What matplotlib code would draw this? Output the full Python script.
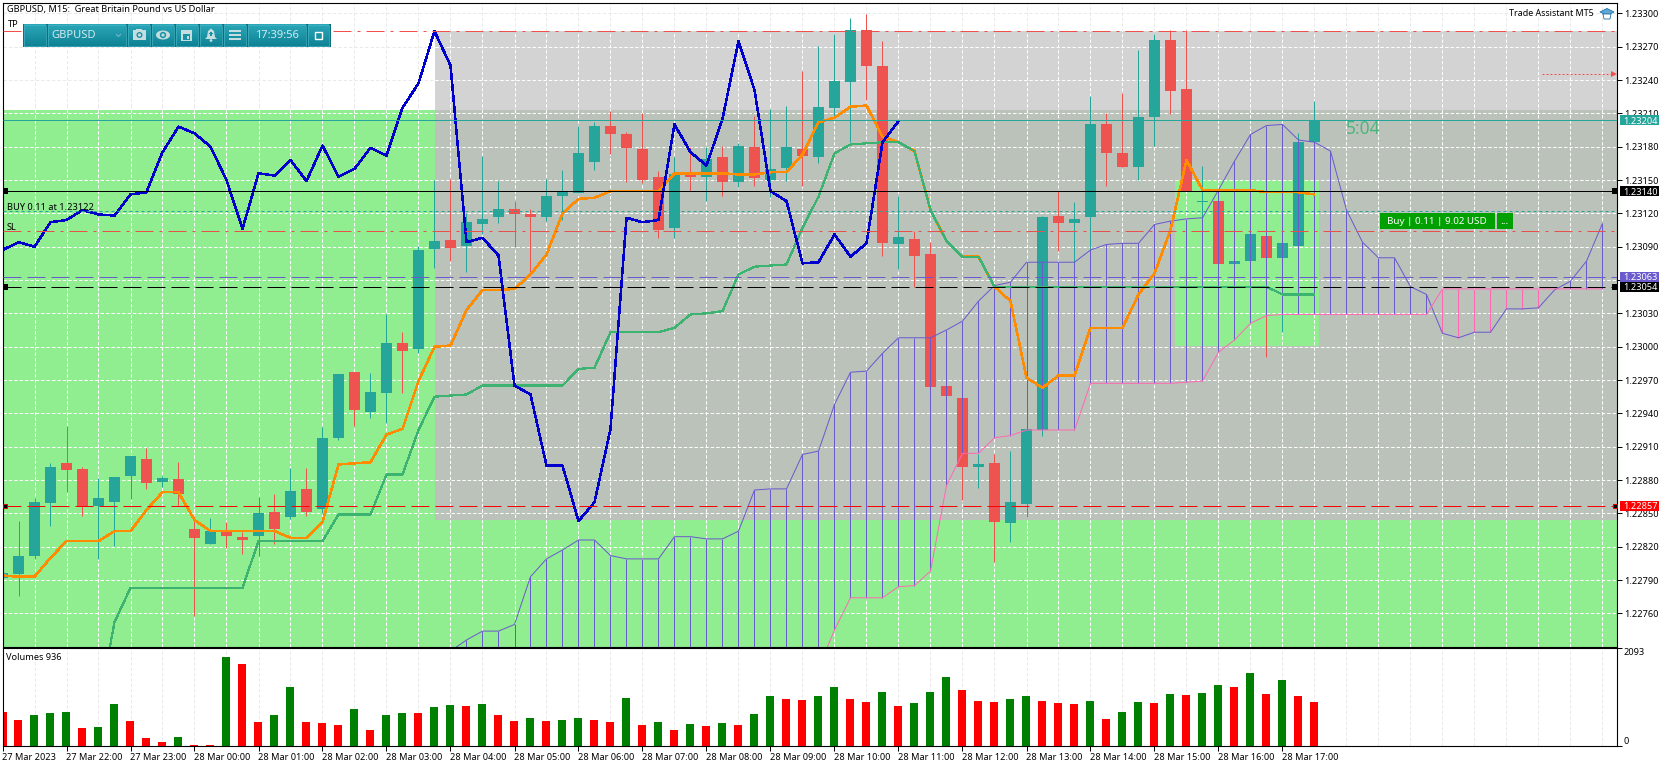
import numpy as np
import matplotlib
matplotlib.use("Agg")
import matplotlib.pyplot as plt
from matplotlib.patches import Rectangle, Polygon, Ellipse, Circle
from matplotlib.colors import LinearSegmentedColormap

plt.rcParams['font.family'] = ['Noto Sans', 'DejaVu Sans']
plt.rcParams['lines.scale_dashes'] = False
plt.rcParams['lines.solid_capstyle'] = 'butt'
plt.rcParams['lines.dash_capstyle'] = 'butt'

# ---- data: prices in points (1.23140 -> 123140) ----
open_ = [122792,122795,122812,122859,122895,122890,122857,122860,122884,122899,122878,122881,122836,122822,122833,122829,122830,122851,122847,122872,122854,122918,122977,122941,122958,123003,122998,123088,123096,123091,123110,123117,123124,123119,123117,123136,123138,123166,123199,123191,123178,123153,123107,123155,123153,123171,123148,123180,123150,123161,123178,123171,123215,123238,123285,123253,123092,123097,123083,122965,122954,122892,122895,122841,122858,122925,123118,123111,123117,123200,123174,123162,123207,123276,123232,123130,123131,123074,123077,123100,123080,123091,123184]
high = [122796,122843,122864,122895,122929,122892,122882,122883,122902,122909,122884,122896,122848,122846,122842,122833,122865,122867,122891,122891,122928,122975,122977,122976,123029,123013,123091,123150,123151,123120,123172,123149,123131,123124,123151,123159,123199,123202,123212,123193,123210,123158,123171,123180,123180,123181,123183,123208,123214,123217,123248,123271,123281,123296,123299,123275,123136,123104,123094,122965,122954,122903,122903,122906,122926,123118,123140,123130,123226,123210,123228,123267,123281,123285,123285,123163,123131,123077,123101,123100,123093,123192,123221]
low = [122792,122776,122809,122839,122869,122848,122809,122821,122863,122872,122874,122857,122758,122822,122819,122813,122812,122822,122845,122848,122850,122916,122929,122936,122931,122958,122994,123071,123077,123067,123101,123111,123090,123064,123113,123114,123138,123159,123173,123148,123147,123098,123098,123140,123131,123136,123144,123145,123135,123149,123145,123165,123207,123184,123222,123082,123070,123054,122964,122956,122862,122873,122806,122824,122847,122920,123086,123075,123078,123145,123162,123150,123181,123209,123140,123114,123074,123074,123077,122991,123013,123091,123184]
close = [122796,122812,122860,122892,122889,122857,122864,122883,122902,122877,122882,122867,122828,122834,122830,122826,122850,122836,122870,122851,122918,122975,122943,122959,123003,122996,123087,123095,123089,123112,123115,123124,123119,123117,123136,123140,123174,123199,123191,123179,123150,123105,123155,123153,123169,123148,123181,123152,123160,123180,123172,123216,123239,123285,123253,123093,123099,123082,122964,122956,122892,122894,122842,122860,122926,123117,123111,123115,123200,123174,123162,123207,123276,123230,123140,123131,123074,123077,123101,123080,123093,123184,123204]

chikou = [123087,123094,123090,123112,123114,123123,123119,123118,123137,123139,123175,123198,123192,123180,123150,123106,123156,123154,123168,123149,123181,123153,123160,123179,123172,123215,123237,123284,123253,123094,123098,123082,122965,122957,122893,122893,122843,122860,122926,123116,123112,123114,123200,123175,123163,123205,123275,123231,123140,123131,123075,123076,123101,123081,123093,123184,123203]
tenkan = [122794,122793,122793,122810,122825,122825,122825,122834,122834,122853,122869,122869,122844,122834,122834,122834,122834,122834,122828,122828,122842,122894,122895,122896,122921,122926,122969,123000,123001,123033,123051,123051,123052,123065,123083,123120,123133,123134,123140,123140,123140,123140,123156,123156,123156,123156,123155,123155,123157,123157,123173,123202,123206,123216,123217,123189,123184,123176,123123,123095,123081,123081,123054,123041,122972,122963,122974,122974,123017,123017,123017,123047,123066,123105,123168,123141,123141,123141,123141,123139,123139,123139,123137]
kijun_start = 6
kijun = [122675,122752,122783,122783,122783,122783,122783,122783,122783,122783,122825,122825,122825,122825,122825,122849,122849,122849,122885,122885,122925,122955,122956,122957,122965,122965,122965,122965,122965,122965,122980,122981,123013,123013,123013,123013,123017,123029,123030,123032,123065,123072,123073,123074,123107,123135,123174,123182,123183,123184,123184,123176,123123,123095,123081,123081,123054,123054,123054,123054,123054,123054,123054,123054,123054,123054,123054,123054,123054,123054,123054,123054,123054,123054,123047,123047,123047]
cloud_start = 28
senkou_a = [122726,122736,122744,122744,122750,122793,122809,122817,122826,122826,122812,122809,122809,122809,122829,122829,122827,122827,122834,122871,122872,122872,122903,122906,122948,122977,122978,122994,123008,123008,123008,123015,123023,123041,123055,123058,123076,123076,123076,123076,123087,123092,123093,123093,123110,123113,123115,123116,123141,123167,123191,123199,123200,123186,123184,123176,123123,123094,123080,123080,123054,123047,123012,123008,123013,123013,123034,123034,123035,123051,123059,123077,123111]
senkou_b = [122700,122700,122700,122700,122700,122700,122700,122700,122700,122700,122700,122700,122700,122700,122700,122700,122700,122700,122700,122700,122700,122700,122700,122711,122745,122774,122774,122774,122784,122785,122798,122875,122904,122904,122918,122920,122925,122925,122925,122925,122967,122967,122967,122967,122967,122967,122968,122969,122995,123006,123021,123028,123029,123029,123029,123029,123029,123029,123029,123029,123029,123029,123052,123052,123052,123052,123052,123052,123052,123052,123052,123052,123052]

volume = [733,562,669,712,733,392,413,904,541,178,93,199,28,28,1908,1759,520,669,1267,520,498,456,797,349,669,712,712,840,883,862,904,669,541,605,541,562,605,562,520,1032,456,520,349,477,434,498,456,691,1075,1011,990,1075,1267,1011,947,1161,862,926,1161,1481,1203,968,947,1011,1075,968,926,904,968,584,733,947,926,1118,1096,1139,1310,1267,1566,1118,1417,1075,936]
volume_up = "DDUUUDUUDDDUDDUDDUUDDDUDUUDUUDUDDUDUUDDUDUDUDUDUUDDUUDDUDUUUDDDUUDDDUDUUDUDUUDUDUDD"

time_labels = ["27 Mar 2023","27 Mar 22:00","27 Mar 23:00","28 Mar 00:00","28 Mar 01:00","28 Mar 02:00","28 Mar 03:00","28 Mar 04:00","28 Mar 05:00","28 Mar 06:00","28 Mar 07:00","28 Mar 08:00","28 Mar 09:00","28 Mar 10:00","28 Mar 11:00","28 Mar 12:00","28 Mar 13:00","28 Mar 14:00","28 Mar 15:00","28 Mar 16:00","28 Mar 17:00"]
price_ticks = [123300,123270,123240,123210,123180,123150,123120,123090,123060,123030,123000,122970,122940,122910,122880,122850,122820,122790,122760]
hidden_price_labels = [123060]

TP, SL, BUY = 123284, 123104, 123122
BID, ASK_LINE, LINE_BLACK, LINE_PURPLE, LINE_RED = 123204, 123140, 123054, 123063, 122857
ZONE_TOP, ZONE_BOTTOM, GREEN_TOP = 123284, 122844, 123213
ZONE_LEFT = 27.03
SMALL_BOX = (73.3, 82.3, 123001, 123150)
ARROW_PRICE, ARROW_FROM = 123245, 96.2
boxes = [(123204,'#26A69A'),(123140,'#000000'),(123063,'#6A5ACD'),(123054,'#000000'),(122857,'#FF0000')]

# ---- layout ----
W, H = 1670, 767
px = 0.72
L, R = 2.5, 1617.3
fig = plt.figure(figsize=(W/100, H/100), dpi=100, facecolor='white')
def frame(y0, y1):
    return [L/W, (H-y1)/H, (R-L)/W, (y1-y0)/H]
ax = fig.add_axes(frame(2.5, 646.5))
vx = fig.add_axes(frame(648.3, 746))
XMAX = (R-L)/16
YTOP, YBOT = 123309.75, 122730.15
n = len(close)
idx = np.arange(n)
TEAL, RED = '#26A69A', '#EF5350'
for a in (ax, vx):
    a.set_xlim(0, XMAX)
    for s in a.spines.values():
        s.set_linewidth(1.1*px); s.set_color('black')
ax.set_ylim(YBOT, YTOP)
vx.set_ylim(0, 2093)

# ---- zones ----
ax.add_patch(Rectangle((0,YBOT), XMAX, GREEN_TOP-YBOT, fc='#90EE90', ec='none', zorder=0.1))
ax.add_patch(Rectangle((ZONE_LEFT,GREEN_TOP), XMAX-ZONE_LEFT, ZONE_TOP-GREEN_TOP, fc='#D3D3D3', ec='none', zorder=0.2))
ax.add_patch(Rectangle((ZONE_LEFT,ZONE_BOTTOM), XMAX-ZONE_LEFT, GREEN_TOP-ZONE_BOTTOM, fc='#BBC2BA', ec='none', zorder=0.2))
ax.add_patch(Rectangle((SMALL_BOX[0],SMALL_BOX[2]), SMALL_BOX[1]-SMALL_BOX[0], SMALL_BOX[3]-SMALL_BOX[2], fc='#90EE90', ec='none', zorder=0.3))

# ---- grid ----
grid_ls = (0,(3.2*px,2.2*px))
gx = np.arange(2, 102, 2)
gy = np.array(price_ticks)
clip = Polygon([(0,YBOT),(XMAX,YBOT),(XMAX,ZONE_TOP),(ZONE_LEFT,ZONE_TOP),(ZONE_LEFT,GREEN_TOP),(0,GREEN_TOP)], closed=True, transform=ax.transData, fc='none', ec='none')
ax.add_patch(clip)
gkw = dict(lw=px, linestyles=[grid_ls], snap=True)
ax.hlines(gy, 0, XMAX, colors='#E9E9E9', zorder=0.5, **gkw)
ax.vlines(gx, YBOT, YTOP, colors='#E9E9E9', zorder=0.5, **gkw)
c1 = ax.hlines(gy, 0, XMAX, colors='white', zorder=0.6, **gkw)
c2 = ax.vlines(gx, YBOT, YTOP, colors='white', zorder=0.6, **gkw)
c1.set_clip_path(clip); c2.set_clip_path(clip)
vx.vlines(gx, 0, 2093, colors='#E9E9E9', zorder=0.5, **gkw)

# ---- candles ----
o, h, l, c = map(np.array, (open_, high, low, close))
cols = np.where(c >= o, TEAL, RED)
ax.vlines(idx, l, h, colors=cols, lw=px, zorder=1, snap=True)
ax.bar(idx, np.abs(c-o), bottom=np.minimum(o,c), width=11/16, color=cols, linewidth=0, zorder=1.1, antialiased=False)

# ---- ichimoku ----
ci = np.arange(cloud_start, cloud_start+len(senkou_a))
sa, sb = np.array(senkou_a), np.array(senkou_b)
ax.vlines(ci, sa, sb, colors=np.where(sa>=sb,'#6A5ACD','#FF69B4'), lw=px, zorder=2, snap=True)
ax.plot(ci, sa, color='#6A5ACD', lw=px, zorder=2.1)
ax.plot(ci, sb, color='#FF69B4', lw=px, zorder=2.1)
ax.plot(idx, tenkan, color='#FF8C00', lw=1.5*px, zorder=2.3, antialiased=False)
ax.plot(np.arange(kijun_start, kijun_start+len(kijun)), kijun, color='#3CB371', lw=1.2*px, zorder=2.4, antialiased=False)
ax.plot(np.arange(len(chikou)), chikou, color='#0000CD', lw=1.5*px, zorder=2.5, antialiased=False)

# ---- trade lines ----
dash = (0,(18*px,6*px))
dashdot = (0,(18*px,6*px,3*px,6*px))
lkw = dict(lw=px, snap=True)
ax.axhline(TP, color='#F0504C', ls=dashdot, zorder=3, **lkw)
ax.axhline(SL, color='#E8504C', ls=dashdot, zorder=3, **lkw)
ax.axhline(BUY, color='#26A69A', ls=(0,(3*px,3*px)), zorder=3, **lkw)
ax.axhline(BID, color=TEAL, zorder=3, **lkw)
ax.axhline(ASK_LINE, color='black', zorder=3.1, **lkw)
ax.axhline(LINE_PURPLE, color='#6A5ACD', ls=dash, zorder=3, **lkw)
ax.axhline(LINE_BLACK, color='black', ls=dash, zorder=3.1, **lkw)
ax.axhline(LINE_RED, color='#FF0000', ls=dash, zorder=3.2, **lkw)
ax.plot([ARROW_FROM, XMAX-0.2],[ARROW_PRICE]*2, color='#F0504C', ls=(0,(2*px,2*px)), zorder=3, **lkw)
ax.plot([XMAX-0.2],[ARROW_PRICE], marker='>', ms=5, color='#F0504C', mew=0, zorder=3)
for p in (ASK_LINE, LINE_BLACK):
    ax.plot([0.16, XMAX-0.17],[p,p], ls='none', marker='s', ms=4, color='black', mew=0, zorder=4)
ax.plot([0.16, XMAX-0.17],[LINE_RED]*2, ls='none', marker='s', ms=3.4, mfc='black', mec='#E00000', mew=0.7, zorder=4)

# ---- axes ticks ----
fs = 6.6
ax.set_xticks([])
ax.yaxis.tick_right()
ax.set_yticks(price_ticks)
ax.set_yticklabels(["" if p in hidden_price_labels else f"{p/1e5:.5f}" for p in price_ticks], fontsize=fs)
ax.tick_params(axis='y', length=5*px, width=px, pad=1, color='black')

bw = 8/16
vx.bar(np.arange(len(volume)), volume, width=bw, color=['#008000' if f=='U' else '#FF0000' for f in volume_up], linewidth=0, zorder=1, antialiased=False)
vx.yaxis.tick_right()
vx.set_yticks([0, 2093])
vx.set_yticklabels([])
vx.tick_params(axis='y', length=5*px, width=px)
tpos = np.arange(0, 4*len(time_labels), 4)
vx.set_xticks(tpos)
vx.set_xticklabels(time_labels, fontsize=fs, ha='left')
vx.tick_params(axis='x', length=5*px, width=px, pad=1.2)
vtrans = vx.get_yaxis_transform()
vx.text(1+6/(R-L), 2093, "2093", transform=vtrans, fontsize=fs, va='top', ha='left', clip_on=False)
vx.text(1+6/(R-L), 0, "0", transform=vtrans, fontsize=fs, va='bottom', ha='left', clip_on=False)

# ---- price boxes ----
trans = ax.get_yaxis_transform()
for p, col in boxes:
    ax.add_patch(Rectangle((1+2.7/(R-L), p-4.5), 39.2/(R-L), 9, transform=trans, fc=col, ec='none', clip_on=False, zorder=6))
    ax.text(1+5.7/(R-L), p, f"{p/1e5:.5f}", transform=trans, color='white', fontsize=fs, va='center_baseline', ha='left', clip_on=False, zorder=7)

# ---- overlay chrome in pixel space ----
ov = fig.add_axes([0,0,1,1], zorder=20)
ov.patch.set_alpha(0); ov.axis('off')
def label(x, y, s, **kw):
    kw.setdefault('fontsize', fs); kw.setdefault('va','center'); kw.setdefault('ha','left')
    ov.text(x, y, s, **kw)
label(6.7, 9.5, "GBPUSD, M15:  Great Britain Pound vs US Dollar", color='black', fontsize=6.65)
label(7.5, 24.5, "TP", color='black', fontsize=6.65)
label(7, 207, "BUY 0.11 at 1.23122", color='black', fontsize=6.65)
label(7, 227, "SL", color='black', fontsize=6.65)
label(6, 657.7, "Volumes 936", color='black', fontsize=6.6)
label(1509, 13.5, "Trade Assistant MT5", color='black', fontsize=6.4)
label(1346, 129, "5:04", color='#3CB371', fontsize=12.5, alpha=0.85)

# cap icon
ov.add_patch(Polygon([(1600,12),(1607,8.5),(1614,12),(1607,15.5)], fc='#5FA8D3', ec='#1F6FA8', lw=0.6))
ov.add_patch(Polygon([(1603,14),(1611,14),(1610,19),(1604,19)], fc='white', ec='#1F6FA8', lw=0.6))

# buy buttons
ov.add_patch(Rectangle((1380,212.7),115,16.3, fc='#00A000', ec='none'))
ov.add_patch(Rectangle((1497,212.7),16,16.3, fc='#00A000', ec='none'))
label(1387, 221, "Buy | 0.11 | 9.02 USD", color='white', fontsize=7.05)
label(1500, 221, "...", color='white', fontsize=7.15)

# toolbar
grad = np.linspace(0,1,24).reshape(-1,1)
cm = LinearSegmentedColormap.from_list('t',['#2AA7B8','#0F8396'])
ov.add_patch(Rectangle((23,23.5),308,23.5, fc='#0C6F80', ec='none'))
for x0,x1 in [(24,45.7),(48,126),(128,150),(152,174),(176,198),(200,222),(224,246),(248,306),(308,328.7)]:
    ov.imshow(grad, extent=(x0,x1,46,24.5), aspect='auto', cmap=cm, zorder=1, interpolation='bilinear')
    ov.add_patch(Rectangle((x0,24.5),x1-x0,21.5, fc='none', ec='#45B3C2', lw=0.5, zorder=2))
ic = '#C6DDE0'
label(51, 35, "GBPUSD", color='#D3EAEE', fontsize=8, zorder=3)
ov.plot([116,118.5,121],[34,36.5,34], color='#6FB9C5', lw=0.8, zorder=3)
label(255.5, 35, "17:39:56", color='#D3EAEE', fontsize=8, zorder=3)
# camera
ov.add_patch(Rectangle((133,30),13,10, fc=ic, ec='none', zorder=3))
ov.add_patch(Rectangle((136,28.5),6,2, fc=ic, ec='none', zorder=3))
ov.add_patch(Circle((139.5,35),3, fc='#1A92A5', ec='none', zorder=4))
ov.add_patch(Circle((139.5,35),1.6, fc=ic, ec='none', zorder=5))
# eye
ov.add_patch(Ellipse((163,35),14,9, fc=ic, ec='none', zorder=3))
ov.add_patch(Circle((163,35),3.2, fc='#1A92A5', ec='none', zorder=4))
ov.add_patch(Circle((163,35),1.6, fc=ic, ec='none', zorder=5))
# calendar
ov.add_patch(Rectangle((181,29.5),11,11.5, fc=ic, ec='none', zorder=3))
ov.add_patch(Rectangle((183,33.5),7,6, fc='#1A92A5', ec='none', zorder=4))
ov.add_patch(Rectangle((186.5,36),2.5,2.5, fc=ic, ec='none', zorder=5))
# bell
ov.add_patch(Polygon([(211,28.5),(214,31),(215,37),(217,39),(205,39),(207,37),(208,31)], fc=ic, ec='none', zorder=3))
ov.add_patch(Circle((211,40.5),1.4, fc=ic, ec='none', zorder=3))
ov.add_patch(Rectangle((210.3,31.5),1.4,4.5, fc='#1A92A5', ec='none', zorder=4))
ov.add_patch(Rectangle((209,33),4,1.4, fc='#1A92A5', ec='none', zorder=4))
# menu
for yy in (31,35,39):
    ov.add_patch(Rectangle((229,yy-0.8),12,1.8, fc=ic, ec='none', zorder=3))
# restore
ov.add_patch(Rectangle((315,32),6.5,6.5, fc='#1A92A5', ec='white', lw=1, zorder=3))
ov.set_xlim(0,W); ov.set_ylim(H,0)

fig.savefig('out.png', dpi=100, facecolor='white')
